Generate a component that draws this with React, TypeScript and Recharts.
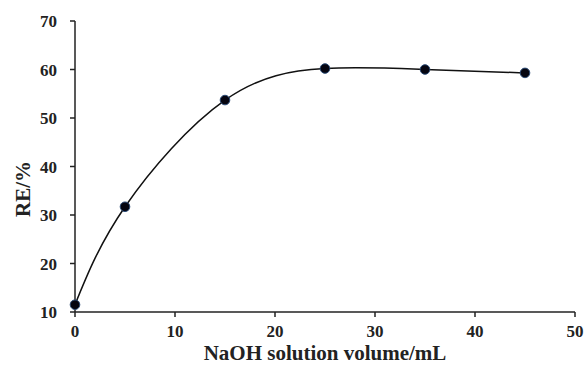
import { LineChart, Line, XAxis, YAxis, Label } from 'recharts'

// NaOH volume (mL) vs removal efficiency (%)
const volumes = [0, 5, 15, 25, 35, 45]
const reValues = [11.5, 31.7, 53.7, 60.2, 60.0, 59.3]
const xTicks = [0, 10, 20, 30, 40, 50]
const yTicks = [10, 20, 30, 40, 50, 60, 70]

const data = volumes.map((v, i) => ({ volume: v, re: reValues[i] }))

const font = '"Liberation Serif", "Times New Roman", serif'
const tickStyle = { fill: '#222', fontSize: 17, fontWeight: 700, fontFamily: font }
const titleStyle = { fill: '#222', fontSize: 21, fontWeight: 700, fontFamily: font }
const axisStroke = { stroke: '#222', strokeWidth: 1.5 }

export default function App() {
    return (
        <div style={{ position: 'absolute', left: 0, top: 0, background: '#fff' }}>
            <LineChart width={585} height={367} data={data} margin={{ top: 21, right: 10, left: 30, bottom: 0 }}>
                <XAxis
                    dataKey="volume"
                    type="number"
                    domain={[0, 50]}
                    ticks={xTicks}
                    height={55}
                    tick={tickStyle}
                    axisLine={axisStroke}
                    tickLine={axisStroke}
                    tickSize={5}
                    tickMargin={8}
                >
                    <Label value="NaOH solution volume/mL" position="insideBottom" offset={7} style={titleStyle} />
                </XAxis>
                <YAxis
                    type="number"
                    domain={[10, 70]}
                    ticks={yTicks}
                    width={45}
                    tick={tickStyle}
                    axisLine={axisStroke}
                    tickLine={axisStroke}
                    tickSize={5}
                    tickMargin={13}
                    interval={0}
                >
                    <Label
                        value="RE/%"
                        content={() => (
                            <text
                                x={30}
                                y={189}
                                transform="rotate(-90 30 189)"
                                textAnchor="middle"
                                style={titleStyle}
                            >
                                RE/%
                            </text>
                        )}
                    />
                </YAxis>
                <Line
                    type="natural"
                    dataKey="re"
                    stroke="#111"
                    strokeWidth={1.5}
                    dot={{ r: 4.8, fill: '#050510', stroke: '#2a4a75', strokeWidth: 1 }}
                    isAnimationActive={false}
                />
            </LineChart>
        </div>
    )
}
